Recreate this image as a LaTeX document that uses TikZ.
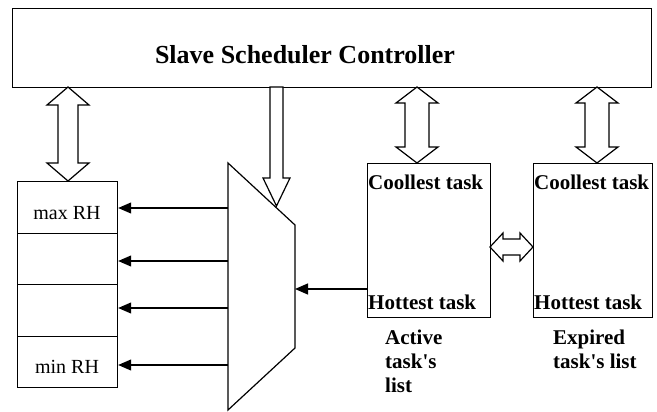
\documentclass[tikz,border=0pt]{standalone}
\usepackage{fontspec}
\setmainfont{Liberation Serif}
\usetikzlibrary{arrows.meta,calc}
\tikzset{
  box/.style={draw, line width=1.2pt, inner sep=0pt, anchor=north west},
  hollow/.style={draw, line width=1.2pt, fill=white, line join=miter},
  arr/.style={line width=1.2pt, -{Triangle[length=13pt,width=11pt]}},
  ttl/.style={font=\fontsize{26}{30}\selectfont\bfseries, inner sep=0pt},
  lbl/.style={font=\fontsize{21}{24}\selectfont\bfseries, inner sep=0pt, anchor=west},
  rh/.style={font=\fontsize{20}{24}\selectfont, inner sep=0pt},
  listcap/.style={font=\fontsize{21}{24}\selectfont\bfseries, inner sep=0pt, anchor=north west, align=left},
}
\newcommand\vdarrow[6]{% cx, top, bottom, shaft half, head half, head length
  \draw[hollow] (#1,#2) -- ({#1+#5},{#2+#6}) -- ({#1+#4},{#2+#6}) -- ({#1+#4},{#3-#6})
   -- ({#1+#5},{#3-#6}) -- (#1,#3) -- ({#1-#5},{#3-#6}) -- ({#1-#4},{#3-#6})
   -- ({#1-#4},{#2+#6}) -- ({#1-#5},{#2+#6}) -- cycle;}
\begin{document}
\begin{tikzpicture}[x=1pt,y=-1pt]
\useasboundingbox (0,0) rectangle (657,412);
% controller
\node[box, minimum width=639pt, minimum height=79pt] (ctrl) at (12,8) {};
\node[ttl] (title) at (305,55) {Slave Scheduler Controller};
% register table
\node[box, minimum width=100pt, minimum height=51.5pt] (r1) at (17,181) {};
\node[box, minimum width=100pt, minimum height=51.5pt] (r2) at (17,232.5) {};
\node[box, minimum width=100pt, minimum height=51.5pt] (r3) at (17,284) {};
\node[box, minimum width=100pt, minimum height=51.5pt] (r4) at (17,335.5) {};
\node[rh] (maxrh) at (67,213) {max RH};
\node[rh] (minrh) at (67,367) {min RH};
% task lists
\node[box, minimum width=123pt, minimum height=154pt] (act) at (367,163) {};
\node[box, minimum width=119pt, minimum height=154pt] (exp) at (533,163) {};
\node[lbl] (ac) at (368,182) {Coollest task};
\node[lbl] (ah) at (368,302) {Hottest task};
\node[lbl] (ec) at (534,182) {Coollest task};
\node[lbl] (eh) at (534,302) {Hottest task};
\node[listcap] (acap) at (385,330) {Active\\task\textquotesingle s\\list};
\node[listcap] (ecap) at (553,330) {Expired\\task\textquotesingle s list};
% multiplexer
\coordinate (mtl) at (228,163);
\coordinate (mtr) at (295,225);
\coordinate (mbr) at (295,348);
\coordinate (mbl) at (228,410);
\draw[line width=1.2pt, line join=miter] (mtl) -- (mtr) -- (mbr) -- (mbl) -- cycle;
\coordinate (m1) at (228,208);
\coordinate (m2) at (228,261);
\coordinate (m3) at (228,308);
\coordinate (m4) at (228,365);
\draw[arr] (m1) -- (m1 -| r1.east);
\draw[arr] (m2) -- (m2 -| r2.east);
\draw[arr] (m3) -- (m3 -| r3.east);
\draw[arr] (m4) -- (m4 -| r4.east);
\coordinate (ain) at (367,289);
\draw[arr] (ain) -- (ain -| mtr);
% hollow arrows
\vdarrow{68}{87}{181}{10}{21}{18}
\vdarrow{417}{87}{163}{12}{21}{16}
\vdarrow{597}{87}{163}{12}{21}{16}
\draw[hollow] (270,87) -- (283,87) -- (283,178) -- (290,178) -- (276.5,206) -- (263,178) -- (270,178) -- cycle;
\draw[hollow] (490,247) -- (503,233) -- (503,239) -- (520,239) -- (520,233) -- (533,247)
  -- (520,261) -- (520,255) -- (503,255) -- (503,261) -- cycle;
\end{tikzpicture}
\end{document}
